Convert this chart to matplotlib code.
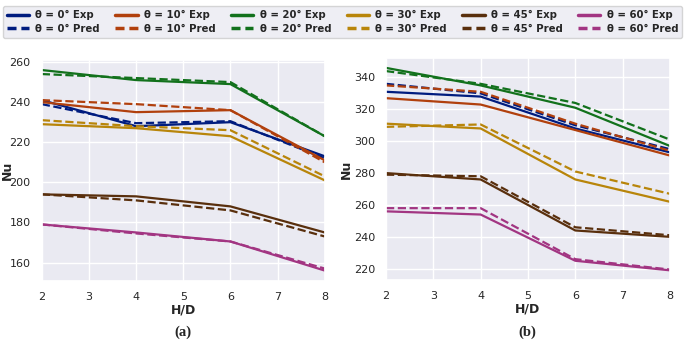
import matplotlib.pyplot as plt
import seaborn as sns
import numpy as np

sns.set_theme(style="darkgrid")
plt.rcParams['font.family'] = ['DejaVu Sans']

hd = [2, 4, 6, 8]
angles = ["0", "10", "20", "30", "45", "60"]
colors = ['#001c7f', '#b1400d', '#12711c', '#b8850a', '#592f0d', '#a23582']

# panel (a)
a_exp = [
    [241, 228, 230, 213],
    [240, 235, 236, 211],
    [256, 251, 249, 223],
    [229, 227, 223, 201],
    [194, 193, 188, 175],
    [179, 175, 170.5, 156],
]
a_pred = [
    [239, 229.5, 230.5, 212],
    [241, 239, 236, 210],
    [254, 252, 250, 223],
    [231, 228, 226, 203],
    [194, 191, 186, 173],
    [179, 174.5, 170.5, 157],
]

# panel (b)
b_exp = [
    [331, 328, 308, 293],
    [327, 323, 307, 291],
    [346, 335, 321, 297],
    [311, 308, 276, 262],
    [280, 276, 244, 240],
    [256, 254, 225, 219],
]
b_pred = [
    [336, 330, 310, 295],
    [335, 331, 311, 294],
    [344, 336, 324, 301],
    [309, 310.5, 281, 267],
    [279, 278, 246, 241],
    [258, 258, 226, 219.5],
]

fig = plt.figure(figsize=(6.85, 3.43), dpi=100)
ax1 = fig.add_axes([0.061, 0.182, 0.413, 0.643])
ax2 = fig.add_axes([0.5635, 0.184, 0.4145, 0.646])

handles = []
labels = []
for ax, exp, pred in [(ax1, a_exp, a_pred), (ax2, b_exp, b_pred)]:
    for i in range(6):
        l1, = ax.plot(hd, exp[i], '-', color=colors[i], lw=1.6)
        l2, = ax.plot(hd, pred[i], '--', color=colors[i], lw=1.6)
        if ax is ax1:
            handles += [l1, l2]
            labels += ["θ = " + angles[i] + "° Exp", "θ = " + angles[i] + "° Pred"]
    ax.set_xlim(2, 8)
    ax.set_xlabel("H/D", fontsize=9, fontweight='bold', labelpad=1)
    ax.set_ylabel("Nu", fontsize=9, fontweight='bold')
    ax.tick_params(labelsize=8, pad=2)

ax1.yaxis.set_label_coords(-0.1, 0.5)
ax2.yaxis.set_label_coords(-0.117, 0.5)

ax1.set_ylim(151, 261)
ax1.set_yticks([160, 180, 200, 220, 240, 260])
ax2.set_ylim(213, 352)
ax2.set_yticks([220, 240, 260, 280, 300, 320, 340])

leg = fig.legend(handles, labels, ncol=6, loc='lower left',
                 bbox_to_anchor=(0.004, 0.89, 0.992, 0.105), mode='expand',
                 prop={'weight': 'bold', 'size': 7.3}, frameon=True, handlelength=2.2,
                 columnspacing=1.0, handletextpad=0.6, borderaxespad=0.0, labelspacing=0.35)
for k, h in enumerate(leg.legend_handles):
    h.set_linewidth(2.5)
    if k % 2 == 1:
        h.set_dashes((2.6, 1.4))

fig.text(0.267, 0.03, "(a)", family='Liberation Serif', fontweight='bold', fontsize=10.5,
         ha='center', va='center')
fig.text(0.77, 0.03, "(b)", family='Liberation Serif', fontweight='bold', fontsize=10.5,
         ha='center', va='center')

fig.savefig("out.png", dpi=100)
